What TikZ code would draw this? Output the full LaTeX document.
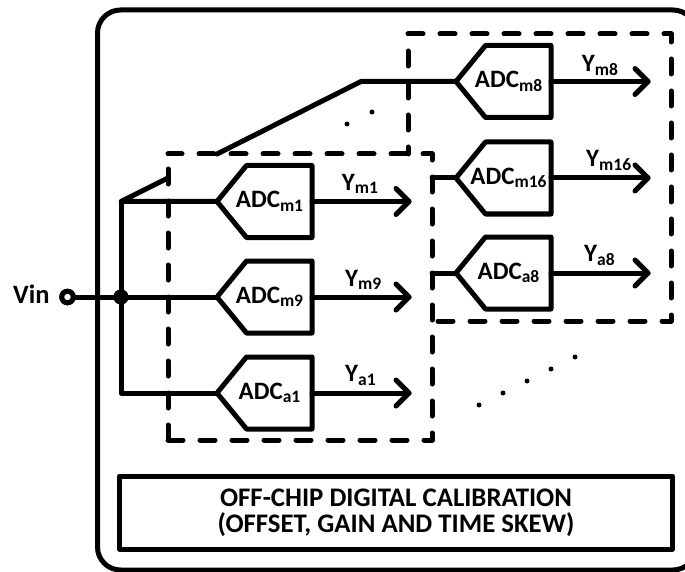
\documentclass[tikz,border=0pt]{standalone}
\usepackage{fontspec}
\setmainfont{Carlito}
\tikzset{
  wire/.style={line width=5pt,line join=round,line cap=round},
  dashbox/.style={line width=5pt,line cap=round,line join=round,dash pattern=on 15pt off 17pt},
  adclabel/.style={font=\bfseries\fontsize{25}{25}\selectfont,inner sep=0pt},
  ylabel/.style={font=\bfseries\fontsize{25}{25}\selectfont,inner sep=0pt,anchor=base west},
  vinlabel/.style={font=\bfseries\fontsize{26.5}{26.5}\selectfont,inner sep=0pt,anchor=base west},
  calib/.style={draw,line width=5pt,line join=round,minimum width=553pt,minimum height=73pt,font=\bfseries\fontsize{26.8}{26}\selectfont,align=center,inner sep=0pt},
  tinydot/.style={circle,fill=black,inner sep=0pt,minimum size=5pt},
  junction/.style={circle,fill=black,inner sep=0pt,minimum size=15pt},
  terminal/.style={circle,draw,fill=white,line width=5pt,inner sep=0pt,minimum size=11.5pt},
}
\newcommand{\subt}[1]{\raisebox{-3.5pt}{\fontsize{17.5}{17.5}\selectfont #1}}
\newcommand{\adcblock}[4]{% name, tip x, y, sub
  \coordinate (#1in) at (#2,#3);
  \coordinate (#1out) at (#2+95,#3);
  \draw[wire] (#1in) -- (#2+29.5,#3-36) -- (#2+95,#3-36) -- (#2+95,#3+36) -- (#2+29.5,#3+36) -- cycle;
  \node[adclabel] (#1lab) at (#2+52.5,#3) {ADC\subt{#4}};
}
\newcommand{\outarrow}[6]{% name, tip x, y, sub, label x, label baseline y
  \coordinate (#1tip) at (#2,#3);
  \draw[wire] (#1out) -- (#1tip);
  \draw[wire] (#2-13,#3-13) -- (#1tip) -- (#2-13,#3+13);
  \node[ylabel] (#1y) at (#5,#6) {Y\subt{#4}};
}
\begin{document}
\begin{tikzpicture}[x=1pt,y=-1pt]
\useasboundingbox (0,0) rectangle (685,572);
\begin{scope}
\clip (0,0) rectangle (685,572);
\draw[line width=5pt,rounded corners=23pt] (97.5,10) rectangle (696,570);
\end{scope}
% dashed boxes
\draw[dashbox] (168,440) -- (168,168);
\draw[dashbox] (168,440) -- (432,440) -- (432,154) -- (168,154);
\draw[dashbox] (408,34) -- (671,34) -- (671,321) -- (432,321);
\draw[dashbox,dash phase=15pt] (408,34) -- (408,154);
% ADC blocks
\adcblock{mone}{217}{201.5}{m1}
\adcblock{mnine}{217}{297}{m9}
\adcblock{aone}{217}{393}{a1}
\adcblock{meight}{456}{81.5}{m8}
\adcblock{msixteen}{456}{178}{m16}
\adcblock{aeight}{456}{273}{a8}
% outputs
\outarrow{mone}{409}{201.5}{m1}{341.7}{190}
\outarrow{mnine}{409}{297}{m9}{345}{286}
\outarrow{aone}{409}{393}{a1}{345}{381.7}
\outarrow{meight}{648}{81.5}{m8}{581.7}{71.7}
\outarrow{msixteen}{648}{178}{m16}{586}{166.7}
\outarrow{aeight}{648}{273}{a8}{584}{261.7}
% inputs
\node[vinlabel] (vin) at (13,303) {Vin};
\node[terminal] (term) at (67.5,297) {};
\node[junction] (jn) at (121,297) {};
\coordinate (topj) at (121,201.5);
\coordinate (botj) at (121,393);
\coordinate (swa) at (168,178);
\coordinate (swb) at (217,154);
\coordinate (bend) at (361,81.5);
\coordinate (sixin) at (432,178);
\coordinate (eightin) at (432,273);
\draw[wire] (term) -- (mninein);
\draw[wire] (swa) -- (topj) -- (monein);
\draw[wire] (topj) -- (botj) -- (aonein);
\draw[wire] (swb) -- (bend) -- (meightin);
\draw[wire] (sixin) -- (msixteenin);
\draw[wire] (eightin) -- (aeightin);
\node[junction] at (jn) {};
\node[terminal] at (term) {};
% ellipsis dots
\node[tinydot] (da) at (347,124) {};
\node[tinydot] (db) at (372,112) {};
\node[tinydot] (dc) at (479,405) {};
\node[tinydot] (dd) at (503,393) {};
\node[tinydot] (de) at (527,381) {};
\node[tinydot] (df) at (551,369) {};
\node[tinydot] (dg) at (575,357) {};
% calibration
\node[calib] (cal) at (396,512.5) {OFF-CHIP DIGITAL CALIBRATION\\(OFFSET, GAIN AND TIME SKEW)};
\end{tikzpicture}
\end{document}
